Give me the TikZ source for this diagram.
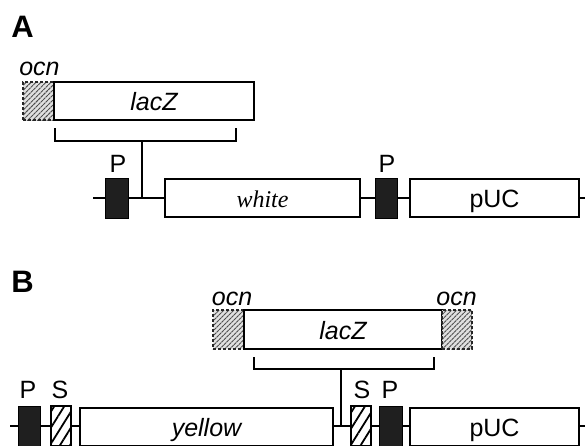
\documentclass[tikz,border=0pt]{standalone}
\usepackage{fontspec}
\setmainfont{Liberation Sans}
\newfontfamily\serifface{Liberation Serif}
\usetikzlibrary{patterns.meta}
\begin{document}
\begin{tikzpicture}[x=1pt,y=-1pt,
  line/.style={line width=1.6pt},
  box/.style={draw,line width=1.6pt,fill=white,rectangle,inner sep=0pt,minimum height=38pt,
    text height=19pt,text depth=0pt,font=\fontsize{25}{25}\selectfont},
  prom/.style={draw,line width=1pt,fill=black!88,inner sep=0pt,minimum width=23pt,minimum height=40pt},
  spacer/.style={draw,line width=1.5pt,inner sep=0pt,minimum width=20pt,minimum height=40pt,
    preaction={fill=white},pattern={Lines[angle=58,distance=8.5pt,line width=1.8pt]}},
  ocnbox/.style={draw=black!85,densely dashed,line width=1.3pt,inner sep=0pt,minimum width=31pt,minimum height=38pt,
    preaction={fill=black!12},pattern={Lines[angle=45,distance=3.5pt,line width=0.9pt]},pattern color=black!70},
  lbl/.style={font=\fontsize{25}{25}\selectfont,inner sep=0pt,anchor=base},
  panel/.style={font=\bfseries\fontsize{31}{31}\selectfont,inner sep=0pt,anchor=base}
]
\useasboundingbox (0,0) rectangle (585,445);
\clip (0,0) rectangle (585,445);

% ---------- Panel A ----------
\node[panel] (labA) at (22.5,37) {A};
\coordinate (a0) at (93,198);
\coordinate (a1) at (590,198);
\draw[line] (a0) -- (a1);

\node[ocnbox,minimum width=31pt] (ocnA) at (38.5,101) {};
\node[box,minimum width=200pt,font=\itshape\fontsize{25}{25}\selectfont] (lacZA) at (154,101) {lacZ};
\node[lbl,font=\itshape\fontsize{25}{25}\selectfont] (ocnAlab) at (39.5,75) {ocn};

\node[prom] (PA1) at (117,198) {};
\node[box,minimum width=195pt,font=\serifface\itshape\fontsize{24}{24}\selectfont] (whiteA) at (262.5,198) {white};
\node[prom,minimum width=22pt] (PA2) at (386,198) {};
\node[box,minimum width=169pt] (pUCA) at (494.5,198) {pUC};
\node[lbl] (PA1lab) at (118,172) {P};
\node[lbl] (PA2lab) at (387,172) {P};

\coordinate (bA1) at (55,128);
\coordinate (bA2) at (236,128);
\coordinate (stA) at (142,141);
\coordinate (stAb) at (142,198);
\draw[line] (bA1) -- (55,141) -- (236,141) -- (bA2);
\draw[line] (stA) -- (stAb);

% ---------- Panel B ----------
\node[panel] (labB) at (22.5,292) {B};
\coordinate (b0) at (10,426);
\coordinate (b1) at (590,426);
\draw[line] (b0) -- (b1);

\node[ocnbox,minimum width=31pt,minimum height=39pt] (ocnB1) at (228.5,329.5) {};
\node[box,minimum width=198pt,minimum height=39pt,font=\itshape\fontsize{25}{25}\selectfont] (lacZB) at (343,329.5) {lacZ};
\node[ocnbox,minimum width=30pt,minimum height=39pt] (ocnB2) at (457,329.5) {};
\node[lbl,font=\itshape\fontsize{25}{25}\selectfont] (ocnB1lab) at (232,305) {ocn};
\node[lbl,font=\itshape\fontsize{25}{25}\selectfont] (ocnB2lab) at (456.5,305) {ocn};

\coordinate (bB1) at (254,357);
\coordinate (bB2) at (434,357);
\coordinate (stB) at (341,369);
\coordinate (stBb) at (341,426);
\draw[line] (bB1) -- (254,369) -- (434,369) -- (bB2);
\draw[line] (stB) -- (stBb);

\node[prom,minimum width=22pt] (PB1) at (29,426) {};
\node[spacer] (SB1) at (61,426) {};
\node[box,minimum width=253pt,font=\itshape\fontsize{25}{25}\selectfont] (yellowB) at (206.5,427) {yellow};
\node[spacer] (SB2) at (361,426) {};
\node[prom] (PB2) at (390.5,426) {};
\node[box,minimum width=169pt] (pUCB) at (494.5,427) {pUC};
\node[lbl] (PB1lab) at (28,398) {P};
\node[lbl] (SB1lab) at (60,398) {S};
\node[lbl] (SB2lab) at (362,398) {S};
\node[lbl] (PB2lab) at (390,398) {P};
\end{tikzpicture}
\end{document}
